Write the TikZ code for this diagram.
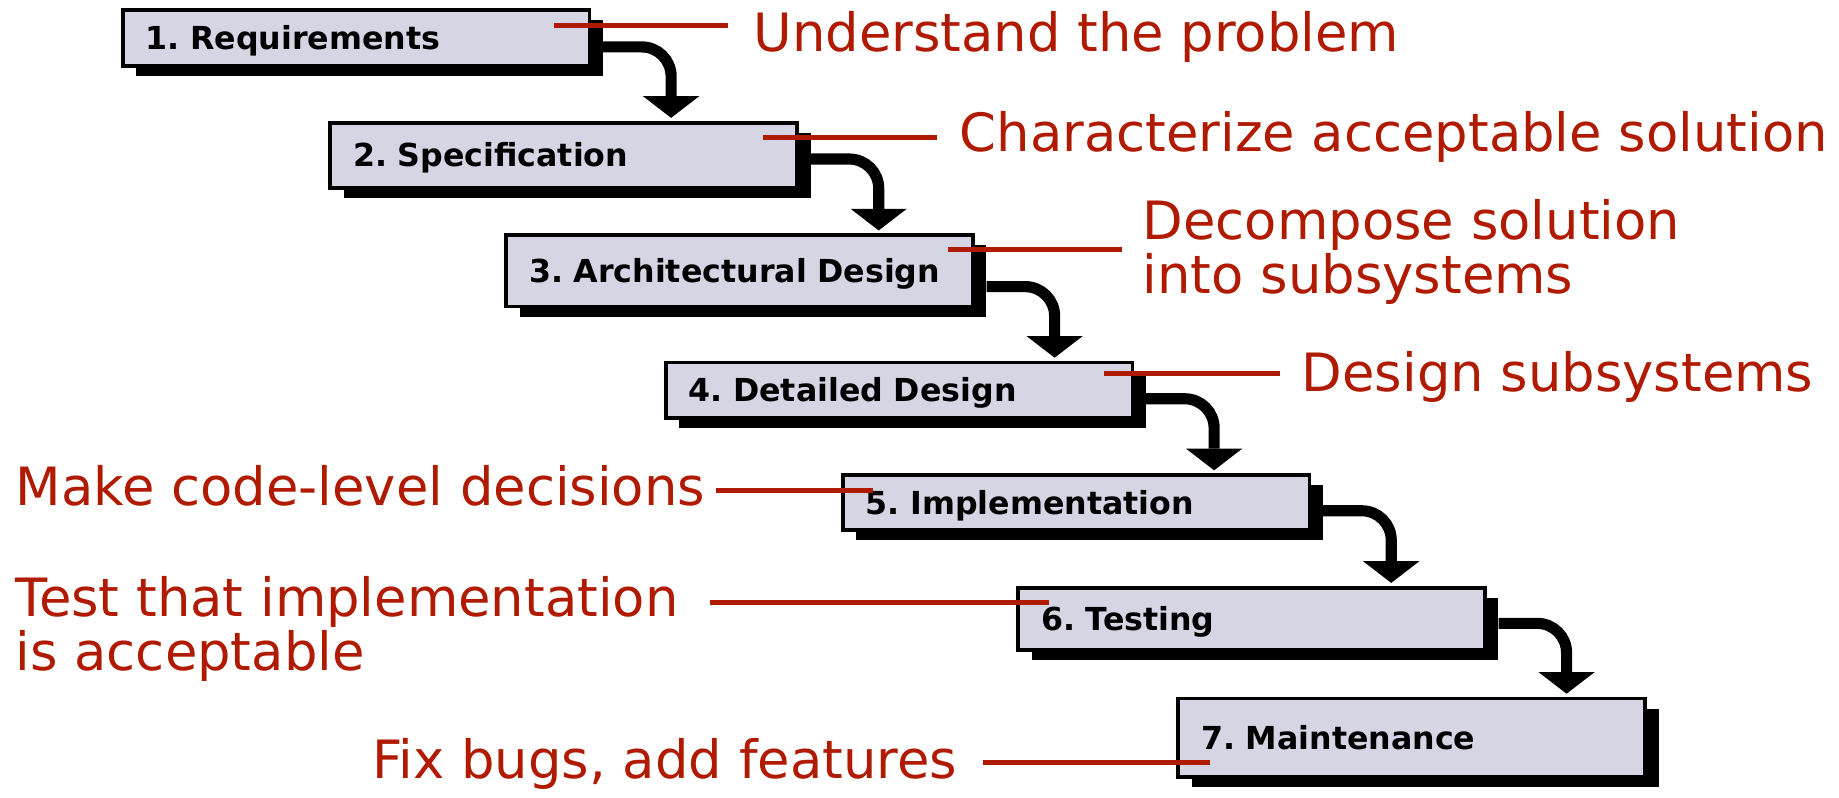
\documentclass[tikz,border=0pt]{standalone}
\usepackage{fontspec}
\setmainfont{DejaVu Sans}
\frenchspacing
\usetikzlibrary{calc,shadows,arrows.meta}
\definecolor{phasefill}{HTML}{D5D5E3}
\definecolor{noteRed}{HTML}{B01A00}
\begin{document}
\begin{tikzpicture}[x=0.5pt, y=-0.5pt,
  phase/.style={draw=black, line width=1.6pt, fill=phasefill, anchor=north west,
    text width=179.5pt, align=left, inner xsep=9.75pt, inner ysep=0pt,
    text height=9.85pt, text depth=0pt,
    font=\bfseries\fontsize{13.5pt}{16pt}\selectfont,
    drop shadow={shadow xshift=5.75pt, shadow yshift=-4.25pt, fill=black, opacity=1}},
  note/.style={text=noteRed, inner sep=0pt, anchor=base west, align=left,
    font=\fontsize{22.5pt}{22.75pt}\selectfont},
  lead/.style={draw=noteRed, line width=2.2pt},
  flow/.style={draw=black, line width=4.75pt, rounded corners=12.5pt,
    -{Triangle[width=24pt,length=9.25pt,line width=0pt]}}]

\useasboundingbox (0,0) rectangle (1568,680);

% the seven phases, stepping down to the right
\node[phase, minimum height=23.9pt]  (b1) at (103,7)      {1. Requirements};
\node[phase, minimum height=27.9pt]  (b2) at (280,103)    {2. Specification};
\node[phase, minimum height=30.4pt]  (b3) at (430,199)    {3. Architectural Design};
\node[phase, minimum height=23.65pt] (b4) at (566,307.5)  {4. Detailed Design};
\node[phase, minimum height=23.4pt]  (b5) at (717,403.5)  {5. Implementation};
\node[phase, minimum height=26.4pt]  (b6) at (866.5,499.5){6. Testing};
\node[phase, minimum height=33.4pt]  (b7) at (1003,594)   {7. Maintenance};

% flow from each phase into the next
\draw[flow] ([shift={(10,33)}]b1.north east)   coordinate (s1) -| ($(s1 |- b2.north)+(58,-2.5)$);
\draw[flow] ([shift={(10,32.6)}]b2.north east) coordinate (s2) -| ($(s2 |- b3.north)+(58,-2.5)$);
\draw[flow] ([shift={(10,45.4)}]b3.north east) coordinate (s3) -| ($(s3 |- b4.north)+(58,-2.5)$);
\draw[flow] ([shift={(10,32.5)}]b4.north east) coordinate (s4) -| ($(s4 |- b5.north)+(58,-2.5)$);
\draw[flow] ([shift={(10,32)}]b5.north east)   coordinate (s5) -| ($(s5 |- b6.north)+(58,-2.5)$);
\draw[flow] ([shift={(10,32)}]b6.north east)   coordinate (s6) -| ($(s6 |- b7.north)+(58,-2.5)$);

% notes on what each phase does (two-line notes sit on their last baseline)
\node[note] (t1) at (642,44)     {Understand the problem};
\node[note] (t2) at (818,129)    {Characterize acceptable solution};
\node[note] (t3) at (974,250)    {Decompose solution\\into subsystems};
\node[note] (t4) at (1109.5,334) {Design subsystems};
\node[note] (t5) at (13,430.6)   {Make code-level decisions};
\node[note] (t6) at (13,571.3)   {Test that implementation\\is acceptable};
\node[note] (t7) at (317,664)    {Fix bugs, add features};

\draw[lead] ([shift={(-31.5,15)}]b1.north east) coordinate (m1) -- ($(m1 -| t1.west)+(-21,0)$);
\draw[lead] ([shift={(-31,14.4)}]b2.north east) coordinate (m2) -- ($(m2 -| t2.west)+(-19,0)$);
\draw[lead] ([shift={(-23,14)}]b3.north east)   coordinate (m3) -- ($(m3 -| t3.west)+(-17,0)$);
\draw[lead] ([shift={(-26,11.2)}]b4.north east) coordinate (m4) -- ($(m4 -| t4.west)+(-18,0)$);
\draw[lead] ([shift={(27.5,14.5)}]b5.north west) coordinate (m5) -- ($(m5 -| t5.east)+(9,0)$);
\draw[lead] ([shift={(28,14.5)}]b6.north west)   coordinate (m6) -- ($(m6 -| t6.east)+(26,0)$);
\draw[lead] ([shift={(28.5,56)}]b7.north west)   coordinate (m7) -- ($(m7 -| t7.east)+(21.5,0)$);
\end{tikzpicture}
\end{document}
